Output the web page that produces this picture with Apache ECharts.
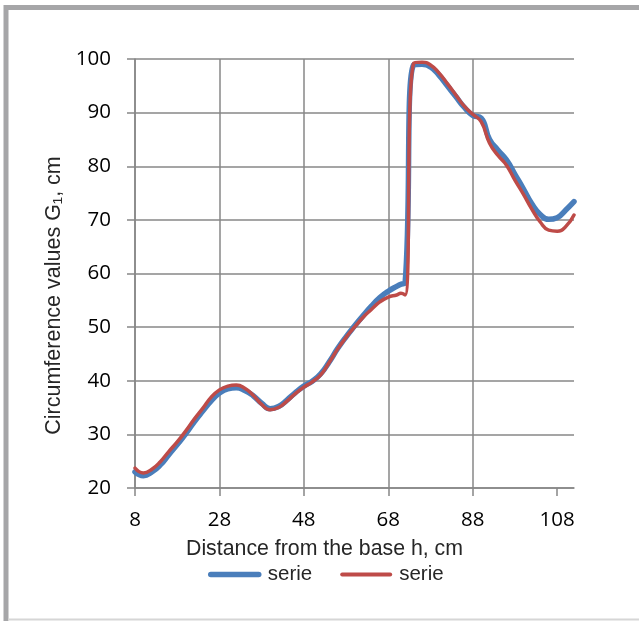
<!DOCTYPE html>
<html><head><meta charset="utf-8">
<script src="https://cdn.jsdelivr.net/npm/echarts@6/dist/echarts.min.js"></script>
<style>html,body{margin:0;padding:0;background:#fff}#c{width:639px;height:621px}</style>
</head><body><div id="c"></div>
<script>
const distance = [8,10,12,14,16,18,20,22,24,26,28,30,32,34,36,38,40,42,44,46,48,50,52,54,56,58,60,62,64,66,68,70,71,72,74,76,78,80,82,84,86,88,90,92,94,96,98,100,102,104,106,108,110,112];
const serieBlue = [23.0,22.3,23.0,24.3,26.2,28.1,30.1,32.3,34.3,36.2,37.7,38.5,38.7,38.2,37.2,35.8,34.8,35.2,36.4,37.8,39.0,39.9,41.3,43.5,46.0,48.2,50.2,52.1,53.9,55.5,56.7,57.6,58.0,58.3,98.9,99.0,98.5,97.0,95.0,93.0,91.0,89.5,89.0,85.0,83.0,81.2,78.5,75.8,73.0,71.0,70.1,70.4,71.8,73.4];
const serieRed = [23.7,22.8,23.5,24.9,26.8,28.6,30.6,32.8,34.8,36.9,38.3,39.0,39.2,38.6,37.3,35.6,34.6,35.0,36.2,37.6,38.8,39.8,41.1,43.4,45.9,48.1,50.0,51.8,53.3,54.7,55.6,56.0,56.3,56.0,99.2,99.4,98.9,97.4,95.4,93.3,91.2,89.7,88.3,84.3,82.0,80.2,77.4,74.8,72.0,69.6,68.1,67.9,68.7,70.9];
const seriesLabels = ['serie', 'serie'];
const xTicks = [8, 28, 48, 68, 88, 108];
const xTitle = 'Distance from the base h, cm';
const yTitle = 'Circumference values G\u2081, cm';

const pairs = (ys) => distance.map((d, i) => [d, ys[i]]);
const chart = echarts.init(document.getElementById('c'), null, {renderer: 'canvas'});
const gridColor = '#878787';
const blue = '#4a7ebb', red = '#be4b48';
chart.setOption({
  animation: false,
  backgroundColor: '#fff',
  grid: {left: 135, right: 65, top: 59, bottom: 133, containLabel: false},
  xAxis: {
    type: 'value', min: 8, max: 112, interval: 20,
    name: xTitle, nameLocation: 'middle', nameGap: 51,
    nameTextStyle: {fontFamily: 'Liberation Sans', fontSize: 21.3, color: '#262626', padding: [0, 60, 0, 0]},
    axisLine: {show: true, lineStyle: {color: gridColor, width: 1.5}},
    axisTick: {show: true, length: 8, inside: false, customValues: xTicks, lineStyle: {color: gridColor, width: 1.5}},
    axisLabel: {customValues: xTicks, margin: 22, fontFamily: 'Open Sans', fontSize: 20.5, color: '#000'},
    splitLine: {show: true, showMinLine: true, showMaxLine: false, lineStyle: {color: gridColor, width: 1.5}}
  },
  yAxis: {
    type: 'value', min: 20, max: 100, interval: 10,
    name: yTitle, nameLocation: 'middle', nameGap: 70, nameRotate: 90,
    nameTextStyle: {fontFamily: 'Liberation Sans', fontSize: 21.5, color: '#262626', padding: [0, 44, 0, 0]},
    axisLine: {show: true, lineStyle: {color: gridColor, width: 1.5}},
    axisTick: {show: true, length: 8, inside: false, lineStyle: {color: gridColor, width: 1.5}},
    axisLabel: {margin: 24, fontFamily: 'Open Sans', fontSize: 20.5, color: '#000'},
    splitLine: {show: true, lineStyle: {color: gridColor, width: 1.5}}
  },
  legend: {
    left: 203, top: 559, itemWidth: 48, itemHeight: 14, itemGap: 28,
    itemStyle: {opacity: 0},
    formatter: (name) => name === 's1' ? seriesLabels[0] : seriesLabels[1],
    textStyle: {fontFamily: 'Liberation Sans', fontSize: 20.5, color: '#262626', padding: [0, 0, 0, 4]},
    data: [
      {name: 's1', lineStyle: {color: blue, width: 5.5, cap: 'round'}},
      {name: 's2', lineStyle: {color: red, width: 4, cap: 'round'}}
    ]
  },
  series: [
    {name: 's1', type: 'line', data: pairs(serieBlue), smooth: 0.5, symbol: 'none', z: 2,
     lineStyle: {color: blue, width: 5.5, cap: 'round', join: 'round'}, itemStyle: {color: blue}},
    {name: 's2', type: 'line', data: pairs(serieRed), smooth: 0.5, symbol: 'none', z: 3,
     lineStyle: {color: red, width: 3.5, cap: 'round', join: 'round'}, itemStyle: {color: red}}
  ],
  graphic: [
    {type: 'polyline', silent: true, shape: {points: [[6, 621], [6, 7.5], [639, 7.5]]}, style: {stroke: '#a6a6a8', lineWidth: 5, fill: null}},
    {type: 'line', silent: true, shape: {x1: 8, y1: 619.5, x2: 639, y2: 619.5}, style: {stroke: '#d6d6d6', lineWidth: 2}}
  ]
});
</script></body></html>
